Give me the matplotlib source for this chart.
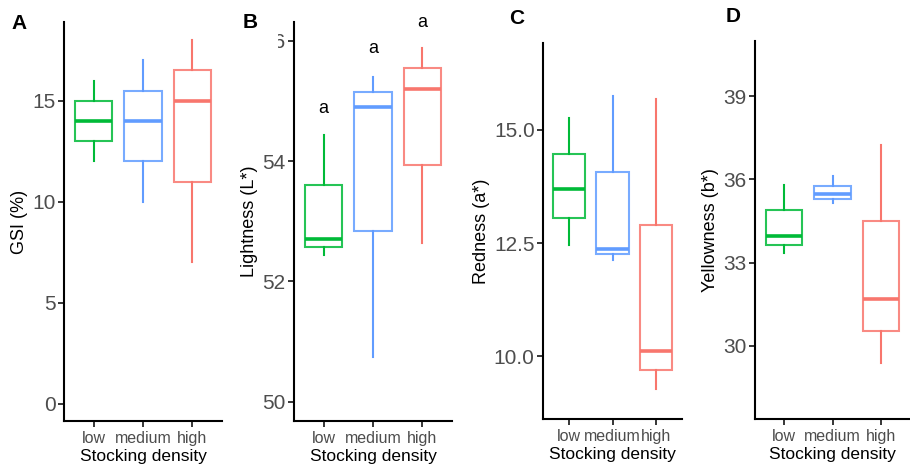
import matplotlib.pyplot as plt
from matplotlib.patches import Rectangle

plt.rcParams['font.family'] = ['Liberation Sans', 'DejaVu Sans']

# groups and colours
groups = ['low', 'medium', 'high']
colors = ['#00BA38', '#619CFF', '#F8766D']

# box stats per panel: whisker low, q1, median, q3, whisker high
gsi_lo = [12.0, 10.0, 7.0]
gsi_q1 = [13.0, 12.0, 11.0]
gsi_med = [14.0, 14.0, 15.0]
gsi_q3 = [15.0, 15.5, 16.5]
gsi_hi = [16.0, 17.0, 18.0]

light_lo = [52.44, 50.74, 52.63]
light_q1 = [52.57, 52.83, 53.93]
light_med = [52.70, 54.90, 55.20]
light_q3 = [53.60, 55.15, 55.55]
light_hi = [54.43, 55.39, 55.87]
light_letters = ['a', 'a', 'a']
light_letter_y = [54.88, 55.87, 56.30]

red_lo = [12.45, 12.14, 9.28]
red_q1 = [13.06, 12.27, 9.71]
red_med = [13.70, 12.38, 10.13]
red_q3 = [14.47, 14.07, 12.91]
red_hi = [15.27, 15.75, 15.69]

yel_lo = [33.33, 35.14, 29.37]
yel_q1 = [33.63, 35.29, 30.52]
yel_med = [33.97, 35.46, 31.68]
yel_q3 = [34.88, 35.76, 34.49]
yel_hi = [35.80, 36.12, 37.26]

panels = [
    dict(tag='A', ylabel='GSI (%)', lo=gsi_lo, q1=gsi_q1, med=gsi_med, q3=gsi_q3, hi=gsi_hi,
         ylim=(-0.85, 18.9), yticks=[0, 5, 10, 15], ytl=['0', '5', '10', '15'],
         box=(64, 222, 22, 421), tagpos=(11, 29)),
    dict(tag='B', ylabel='Lightness (L*)', lo=light_lo, q1=light_q1, med=light_med, q3=light_q3, hi=light_hi,
         ylim=(49.68, 56.31), yticks=[50, 52, 54, 56], ytl=['50', '52', '54', '56'],
         box=(294, 452, 22, 421), tagpos=(243, 28)),
    dict(tag='C', ylabel='Redness (a*)', lo=red_lo, q1=red_q1, med=red_med, q3=red_q3, hi=red_hi,
         ylim=(8.62, 16.92), yticks=[10, 12.5, 15], ytl=['10.0', '12.5', '15.0'],
         box=(543, 682, 43, 419), tagpos=(509, 24)),
    dict(tag='D', ylabel='Yellowness (b*)', lo=yel_lo, q1=yel_q1, med=yel_med, q3=yel_q3, hi=yel_hi,
         ylim=(27.35, 41.0), yticks=[30, 33, 36, 39], ytl=['30', '33', '36', '39'],
         box=(755, 910, 41, 419), tagpos=(726, 22)),
]

W, H = 910, 467
fig = plt.figure(figsize=(W / 100, H / 100), dpi=100)

axes = []
for p in panels:
    l, r, t, b = p['box']
    ax = fig.add_axes([l / W, (H - b) / H, (r - l) / W, (b - t) / H])
    axes.append(ax)
    for i, g in enumerate(groups):
        st = [dict(whislo=p['lo'][i], q1=p['q1'][i], med=p['med'][i],
                   q3=p['q3'][i], whishi=p['hi'][i], label=g)]
        c = colors[i]
        ax.bxp(st, positions=[i + 1], widths=0.75, showcaps=False, showfliers=False,
               patch_artist=True,
               boxprops=dict(facecolor='white', edgecolor=c, linewidth=1.5, alpha=0.85),
               whiskerprops=dict(color=c, linewidth=1.5),
               medianprops=dict(color=c, linewidth=2.6, solid_capstyle='butt'))
    ax.set_xlim(0.4, 3.6)
    ax.set_ylim(*p['ylim'])
    ax.set_xticks([1, 2, 3])
    ax.set_xticklabels(groups)
    ax.set_yticks(p['yticks'])
    ax.set_yticklabels(p['ytl'])
    ax.tick_params(axis='y', labelsize=15, labelcolor='#4D4D4D', length=4, width=1.1, pad=2)
    ax.tick_params(axis='x', labelsize=11.5, labelcolor='#4D4D4D', length=4, width=1.1, pad=3)
    for s in ['top', 'right']:
        ax.spines[s].set_visible(False)
    for s in ['left', 'bottom']:
        ax.spines[s].set_linewidth(1.5)
    ax.set_xlabel('Stocking density', fontsize=12.5, labelpad=2)
    ax.set_ylabel(p['ylabel'], fontsize=13, labelpad=3)
    fig.text(p['tagpos'][0] / W, (H - p['tagpos'][1]) / H, p['tag'],
             fontsize=15, fontweight='bold', ha='left', va='baseline')

# letters on panel B
axB = axes[1]
for i, s in enumerate(light_letters):
    axB.text(i + 1, light_letter_y[i], s, ha='center', va='center', fontsize=13, clip_on=False)

# the "56" label is cut at the left in the original
fig.canvas.draw()
lbl = axB.get_yticklabels()[-1]
lbl.set_clip_path(Rectangle((278 / W, 0), 1, 1, transform=fig.transFigure))

fig.savefig('out.png', dpi=100)
